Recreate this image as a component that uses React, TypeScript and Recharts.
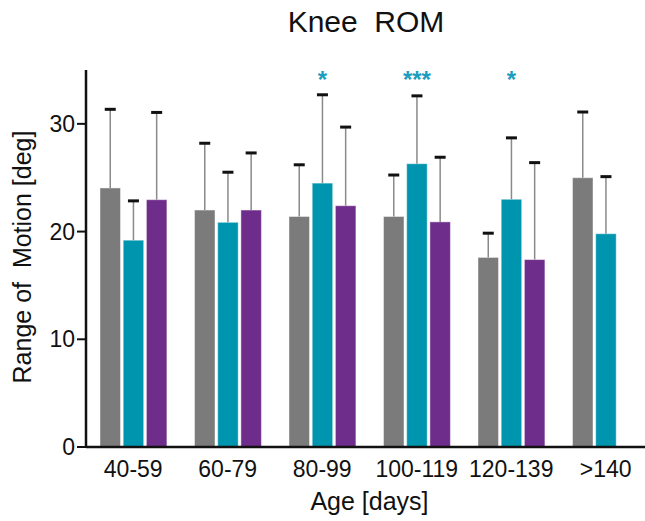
import React from 'react'
import { BarChart, Bar, XAxis, YAxis, LabelList } from 'recharts'

const ageGroups = ['40-59', '60-79', '80-99', '100-119', '120-139', '>140']
const grayMean = [24.05, 22.0, 21.4, 21.4, 17.6, 25.0]
const graySd = [7.3, 6.2, 4.8, 3.85, 2.25, 6.1]
const tealMean = [19.2, 20.86, 24.5, 26.3, 23.0, 19.8]
const tealSd = [3.65, 4.65, 8.2, 6.3, 5.7, 5.3]
const purpleMean = [22.96, 22.0, 22.4, 20.9, 17.4, null]
const purpleSd = [8.1, 5.3, 7.3, 6.0, 9.0, null]
const significance = ['', '', '*', '***', '*', '']
const yTicks = [0, 10, 20, 30]

const FONT = '"Liberation Sans", Arial, Helvetica, sans-serif'
const SIG_LEVEL = 33.3

const data = ageGroups.map((age, i) => ({
  age,
  gray: grayMean[i],
  graySd: graySd[i],
  teal: tealMean[i],
  tealSd: tealSd[i],
  purple: purpleMean[i],
  purpleSd: purpleSd[i],
  sig: significance[i],
}))

// bar + upper-only SD whisker, scaled from the bar's own height
const barWithError = (key: string, sdKey: string) => (props: any) => {
  const { x, y, width, height, fill, payload } = props
  const v = payload?.[key]
  if (v == null || !height) return <g />
  const pxPerUnit = height / v
  const sd = payload[sdKey] ?? 0
  const top = y - sd * pxPerUnit
  const cx = x + width / 2
  return (
    <g>
      <rect x={x} y={y} width={width} height={height} fill={fill} stroke="#ffffff" strokeOpacity={0.45} strokeWidth={1} />
      <line x1={cx} x2={cx} y1={y} y2={top} stroke="#8a8a8a" strokeWidth={1.5} />
      <rect x={cx - 5.5} y={top - 1.5} width={11} height={3} fill="#111" />
    </g>
  )
}

const SigLabel = (props: any) => {
  const { x, y, width, height, value, index } = props
  const v = tealMean[index]
  if (!value || !v || !height) return null
  const pxPerUnit = height / v
  const base = y + height
  return (
    <text
      x={x + width / 2}
      y={base - SIG_LEVEL * pxPerUnit}
      textAnchor="middle"
      fill="#1a9dbf"
      fontSize={24}
      fontWeight="bold"
      fontFamily={FONT}
    >
      {value}
    </text>
  )
}

const YLabel = () => (
  <text
    x={31}
    y={257}
    transform="rotate(-90 31 257)"
    textAnchor="middle"
    fontSize={25}
    fontFamily={FONT}
    fill="#111"
    style={{ whiteSpace: 'pre' }}
  >
    {'Range of\u00a0\u00a0Motion [deg]'}
  </text>
)

export default function App() {
  return (
    <div style={{ position: 'absolute', left: 0, top: 0, width: 645, height: 521, overflow: 'hidden', background: '#fff' }}>
      <div
        style={{
          position: 'absolute',
          left: 166,
          width: 400,
          top: 7,
          textAlign: 'center',
          fontFamily: FONT,
          fontSize: 30,
          lineHeight: '30px',
          color: '#111',
          whiteSpace: 'pre',
        }}
      >
        Knee  ROM
      </div>
      <BarChart
        width={660}
        height={521}
        data={data}
        margin={{ top: 70, right: 7, left: 0, bottom: 0 }}
        barSize={20.5}
        barGap={2.7}
      >
        <XAxis
          dataKey="age"
          height={74}
          axisLine={{ stroke: '#111', strokeWidth: 2.5 }}
          tickLine={false}
          tickSize={6}
          tickMargin={8}
          tick={{ fill: '#111', fontSize: 23, fontFamily: FONT }}
          interval={0}
          label={{ value: 'Age [days]', position: 'insideBottom', offset: 11, fill: '#111', fontSize: 25, fontFamily: FONT }}
        />
        <YAxis
          width={86}
          domain={[0, 35]}
          ticks={yTicks}
          allowDataOverflow
          axisLine={{ stroke: '#111', strokeWidth: 2.5 }}
          tickLine={{ stroke: '#111', strokeWidth: 2 }}
          tickSize={9}
          tickMargin={2}
          tick={{ fill: '#111', fontSize: 23, fontFamily: FONT }}
          label={<YLabel />}
        />
        <Bar dataKey="gray" fill="#7b7b7b" isAnimationActive={false} shape={barWithError('gray', 'graySd')} />
        <Bar dataKey="teal" fill="#0095af" isAnimationActive={false} shape={barWithError('teal', 'tealSd')}>
          <LabelList dataKey="sig" content={<SigLabel />} />
        </Bar>
        <Bar dataKey="purple" fill="#6e2c8b" isAnimationActive={false} shape={barWithError('purple', 'purpleSd')} />
      </BarChart>
    </div>
  )
}
